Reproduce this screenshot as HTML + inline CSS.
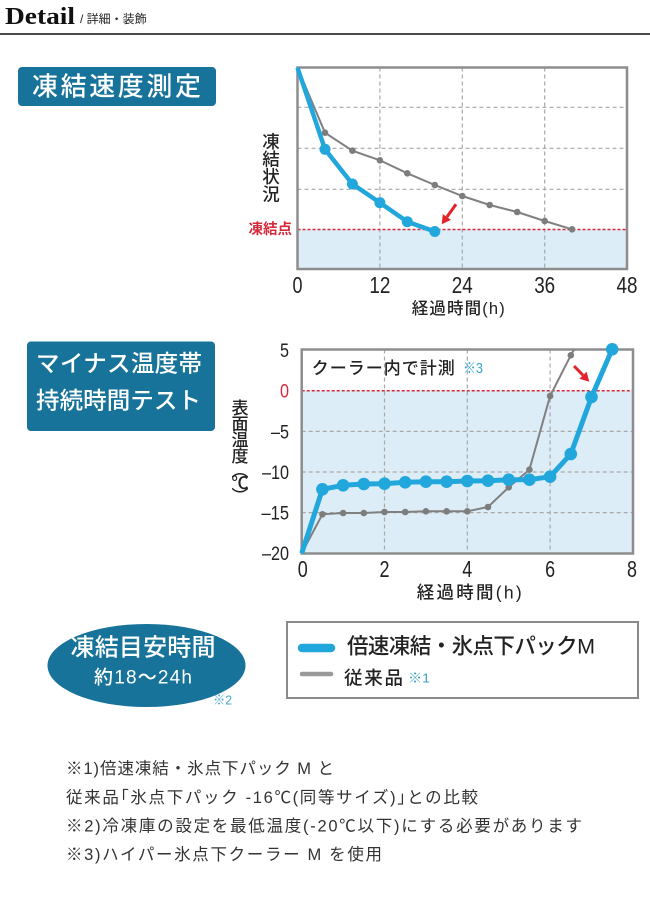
<!DOCTYPE html>
<html><head><meta charset="utf-8"><style>
html,body{margin:0;padding:0;background:#fff;}
svg{display:block;}
text{font-family:"Liberation Sans","Noto Sans CJK JP",sans-serif;}
</style></head><body>
<svg width="650" height="900" viewBox="0 0 650 900" xmlns="http://www.w3.org/2000/svg">
<defs>
<clipPath id="c2"><rect x="301.7" y="349.5" width="331.3" height="204"/></clipPath>
</defs>
<rect width="650" height="900" fill="#fff"/>
<!-- Header -->
<text x="5" y="24" font-weight="bold" font-size="24" fill="#111" textLength="70" lengthAdjust="spacingAndGlyphs" style="font-family:'Liberation Serif',serif">Detail</text>
<text x="80" y="23" font-size="12" fill="#222">/ 詳細・装飾</text>
<line x1="0" y1="34" x2="650" y2="34" stroke="#111" stroke-width="1.5"/>

<!-- Box 1 -->
<rect x="18" y="67" width="198" height="39" rx="4" fill="#17739a"/>
<text x="32" y="86.5" dominant-baseline="central" font-size="26" font-weight="500" fill="#fff" textLength="169" lengthAdjust="spacing">凍結速度測定</text>

<!-- Chart 1 -->
<rect x="297.5" y="229.5" width="329.5" height="39.5" fill="#dcedf7"/>
<g stroke="#a8a8a8" stroke-width="1.2" stroke-dasharray="4 3" fill="none">
<line x1="379.9" y1="67.5" x2="379.9" y2="269"/>
<line x1="462.3" y1="67.5" x2="462.3" y2="269"/>
<line x1="544.7" y1="67.5" x2="544.7" y2="269"/>
<line x1="297.5" y1="107.3" x2="627" y2="107.3"/>
<line x1="297.5" y1="148.3" x2="627" y2="148.3"/>
<line x1="297.5" y1="189.3" x2="627" y2="189.3"/>
</g>
<line x1="297.5" y1="229.5" x2="627" y2="229.5" stroke="#d42a3c" stroke-width="1.5" stroke-dasharray="3 2"/>
<rect x="297.5" y="67.5" width="329.5" height="201.5" fill="none" stroke="#8d8d8d" stroke-width="2.5"/>
<polyline fill="none" stroke="#808080" stroke-width="2" points="297.5,67.7 325,132.7 352.4,150.7 379.9,160.3 407.3,173.3 434.8,185 462.3,196 489.7,205 517.2,212 544.7,221 572.1,229.3"/>
<g fill="#7d7d7d">
<circle cx="325" cy="132.7" r="3.3"/><circle cx="352.4" cy="150.7" r="3.3"/><circle cx="379.9" cy="160.3" r="3.3"/><circle cx="407.3" cy="173.3" r="3.3"/><circle cx="434.8" cy="185" r="3.3"/><circle cx="462.3" cy="196" r="3.3"/><circle cx="489.7" cy="205" r="3.3"/><circle cx="517.2" cy="212" r="3.3"/><circle cx="544.7" cy="221" r="3.3"/><circle cx="572.1" cy="229.3" r="3.3"/>
</g>
<polyline fill="none" stroke="#22a7dd" stroke-width="4.5" stroke-linejoin="round" points="297.5,67.7 325,149.3 352.4,184 379.9,202.7 407.3,221.7 434.8,231.5"/>
<g fill="#22a7dd">
<circle cx="325" cy="149.3" r="5.5"/><circle cx="352.4" cy="184" r="5.5"/><circle cx="379.9" cy="202.7" r="5.5"/><circle cx="407.3" cy="221.7" r="5.5"/><circle cx="434.8" cy="231.5" r="5.5"/>
</g>
<line x1="456" y1="204.3" x2="446.9" y2="217" stroke="#e3232b" stroke-width="3"/>
<polygon points="441.7,224.3 451,219.9 442.8,214.1" fill="#e3232b"/>
<!-- chart1 labels -->
<g font-size="17.5" font-weight="500" fill="#222" text-anchor="middle" dominant-baseline="central">
<text x="271" y="142">凍</text><text x="271" y="159.5">結</text><text x="271" y="177">状</text><text x="271" y="194.5">況</text>
</g>
<text x="292" y="230" text-anchor="end" dominant-baseline="central" font-size="14.5" font-weight="bold" fill="#d42a3c">凍結点</text>
<g font-size="23" fill="#222" text-anchor="middle">
<text x="297.5" y="293" textLength="10" lengthAdjust="spacingAndGlyphs">0</text>
<text x="379.9" y="293" textLength="21" lengthAdjust="spacingAndGlyphs">12</text>
<text x="462.3" y="293" textLength="21" lengthAdjust="spacingAndGlyphs">24</text>
<text x="544.7" y="293" textLength="21" lengthAdjust="spacingAndGlyphs">36</text>
<text x="627" y="293" textLength="21" lengthAdjust="spacingAndGlyphs">48</text>
</g>
<text x="411.7" y="309" dominant-baseline="central" font-size="16.5" font-weight="500" fill="#222" textLength="93" lengthAdjust="spacing">経過時間(h)</text>

<!-- Box 2 -->
<rect x="27" y="341.5" width="188" height="89.5" rx="4" fill="#17739a"/>
<text x="36" y="363.3" dominant-baseline="central" font-size="23.5" font-weight="500" fill="#fff" textLength="166" lengthAdjust="spacing">マイナス温度帯</text>
<text x="36" y="400.5" dominant-baseline="central" font-size="23.5" font-weight="500" fill="#fff" textLength="165" lengthAdjust="spacing">持続時間テスト</text>

<!-- Chart 2 -->
<rect x="301.7" y="390.7" width="331.3" height="162.8" fill="#dcedf7"/>
<g stroke="#a8a8a8" stroke-width="1.2" stroke-dasharray="4 3" fill="none">
<line x1="384.5" y1="349.5" x2="384.5" y2="553.5"/>
<line x1="467.3" y1="349.5" x2="467.3" y2="553.5"/>
<line x1="550.1" y1="349.5" x2="550.1" y2="553.5"/>
<line x1="301.7" y1="431.4" x2="633" y2="431.4"/>
<line x1="301.7" y1="472" x2="633" y2="472"/>
<line x1="301.7" y1="512.6" x2="633" y2="512.6"/>
</g>
<line x1="301.7" y1="390.7" x2="633" y2="390.7" stroke="#d42a3c" stroke-width="1.5" stroke-dasharray="3 2"/>
<rect x="301.7" y="349.5" width="331.3" height="204" fill="none" stroke="#8d8d8d" stroke-width="2.5"/>
<g clip-path="url(#c2)">
<polyline fill="none" stroke="#808080" stroke-width="2" points="301.7,553.3 322.4,514.3 343.1,513 363.8,513 384.5,512 405.2,512 425.9,511.3 446.6,511.3 467.3,511.3 488,507 508.7,487.3 529.4,469.7 550.1,396 570.8,355.3 575.5,347"/>
</g>
<g fill="#7d7d7d">
<circle cx="322.4" cy="514.3" r="3.3"/><circle cx="343.1" cy="513" r="3.3"/><circle cx="363.8" cy="513" r="3.3"/><circle cx="384.5" cy="512" r="3.3"/><circle cx="405.2" cy="512" r="3.3"/><circle cx="425.9" cy="511.3" r="3.3"/><circle cx="446.6" cy="511.3" r="3.3"/><circle cx="467.3" cy="511.3" r="3.3"/><circle cx="488" cy="507" r="3.3"/><circle cx="508.7" cy="487.3" r="3.3"/><circle cx="529.4" cy="469.7" r="3.3"/><circle cx="550.1" cy="396" r="3.3"/><circle cx="570.8" cy="355.3" r="3.3"/>
</g>
<polyline fill="none" stroke="#22a7dd" stroke-width="5" stroke-linejoin="round" points="301.7,553.3 322.4,489.3 343.1,485.3 363.8,484 384.5,483.7 405.2,482.3 425.9,481.7 446.6,481.7 467.3,481 488,480.7 508.7,479.7 529.4,479.7 550.1,476.7 570.8,454 591.5,397 612.2,349.3"/>
<g fill="#22a7dd">
<circle cx="322.4" cy="489.3" r="6.3"/><circle cx="343.1" cy="485.3" r="6.3"/><circle cx="363.8" cy="484" r="6.3"/><circle cx="384.5" cy="483.7" r="6.3"/><circle cx="405.2" cy="482.3" r="6.3"/><circle cx="425.9" cy="481.7" r="6.3"/><circle cx="446.6" cy="481.7" r="6.3"/><circle cx="467.3" cy="481" r="6.3"/><circle cx="488" cy="480.7" r="6.3"/><circle cx="508.7" cy="479.7" r="6.3"/><circle cx="529.4" cy="479.7" r="6.3"/><circle cx="550.1" cy="476.7" r="6.3"/><circle cx="570.8" cy="454" r="6.3"/><circle cx="591.5" cy="397" r="6.3"/><circle cx="612.2" cy="349.3" r="6.3"/>
</g>
<line x1="574" y1="366" x2="583" y2="375.2" stroke="#e3232b" stroke-width="3"/>
<polygon points="589.3,381.7 579.4,378.7 586.6,371.7" fill="#e3232b"/>
<text x="311.7" y="368.3" dominant-baseline="central" font-size="17" font-weight="500" fill="#222" textLength="143" lengthAdjust="spacing">クーラー内で計測</text>
<text x="463" y="368.3" dominant-baseline="central" font-size="15" fill="#3aa7d4" textLength="20" lengthAdjust="spacingAndGlyphs">※3</text>
<!-- chart2 y labels -->
<g font-size="19" fill="#222" text-anchor="end">
<text x="289" y="357" textLength="9" lengthAdjust="spacingAndGlyphs">5</text>
<text x="289" y="397.7" textLength="9" lengthAdjust="spacingAndGlyphs" fill="#d42a3c">0</text>
<text x="289" y="438.4" textLength="18" lengthAdjust="spacingAndGlyphs">–5</text>
<text x="289" y="479" textLength="27" lengthAdjust="spacingAndGlyphs">–10</text>
<text x="289" y="519.6" textLength="27.5" lengthAdjust="spacingAndGlyphs">–15</text>
<text x="289" y="560" textLength="27" lengthAdjust="spacingAndGlyphs">–20</text>
</g>
<g font-size="23" fill="#222" text-anchor="middle">
<text x="302.7" y="577" textLength="10" lengthAdjust="spacingAndGlyphs">0</text>
<text x="384.5" y="577" textLength="10" lengthAdjust="spacingAndGlyphs">2</text>
<text x="467.3" y="577" textLength="10" lengthAdjust="spacingAndGlyphs">4</text>
<text x="550.1" y="577" textLength="10" lengthAdjust="spacingAndGlyphs">6</text>
<text x="632" y="577" textLength="10" lengthAdjust="spacingAndGlyphs">8</text>
</g>
<text x="416.7" y="592.5" dominant-baseline="central" font-size="17.5" font-weight="500" fill="#222" textLength="105" lengthAdjust="spacing">経過時間(h)</text>
<g font-size="17" font-weight="500" fill="#222" text-anchor="middle" dominant-baseline="central">
<text x="240" y="408.3">表</text><text x="240" y="424.5">面</text><text x="240" y="440.5">温</text><text x="240" y="456.5">度</text><text x="240" y="471">︵</text><text x="240" y="483.3">℃</text><text x="240" y="496.5">︶</text>
</g>

<!-- Ellipse -->
<ellipse cx="146.5" cy="665.5" rx="99" ry="41.5" fill="#17739a"/>
<text x="70.5" y="648" dominant-baseline="central" font-size="24" font-weight="500" fill="#fff" textLength="145" lengthAdjust="spacing">凍結目安時間</text>
<text x="94" y="678" dominant-baseline="central" font-size="19" font-weight="500" fill="#fff" textLength="98" lengthAdjust="spacing">約18〜24h</text>
<text x="213" y="700" dominant-baseline="central" font-size="13" fill="#4aa8cf" textLength="19" lengthAdjust="spacingAndGlyphs">※2</text>

<!-- Legend -->
<rect x="287" y="622" width="351" height="76" fill="#fff" stroke="#8a8a8a" stroke-width="2"/>
<line x1="302" y1="648" x2="331" y2="648" stroke="#22a7dd" stroke-width="8.5" stroke-linecap="round"/>
<line x1="302" y1="674" x2="331" y2="674" stroke="#9a9a9a" stroke-width="4.5" stroke-linecap="round"/>
<text x="347" y="646.5" dominant-baseline="central" font-size="21.5" font-weight="500" fill="#222" textLength="248" lengthAdjust="spacing">倍速凍結・氷点下パックM</text>
<text x="344" y="678" dominant-baseline="central" font-size="18.5" font-weight="500" fill="#222" textLength="59" lengthAdjust="spacing">従来品</text>
<text x="408" y="678" dominant-baseline="central" font-size="13" fill="#3aa0c8" textLength="22" lengthAdjust="spacingAndGlyphs">※1</text>

<!-- Footnotes -->
<g font-size="16.5" fill="#333" dominant-baseline="central">
<text x="66" y="769" textLength="268" lengthAdjust="spacing">※1)倍速凍結・氷点下パック M と</text>
<text x="66" y="798" textLength="412" lengthAdjust="spacing">従来品｢氷点下パック -16℃(同等サイズ)｣との比較</text>
<text x="66" y="826.5" textLength="516" lengthAdjust="spacing">※2)冷凍庫の設定を最低温度(-20℃以下)にする必要があります</text>
<text x="66" y="855" textLength="316" lengthAdjust="spacing">※3)ハイパー氷点下クーラー M を使用</text>
</g>
</svg>
</body></html>
